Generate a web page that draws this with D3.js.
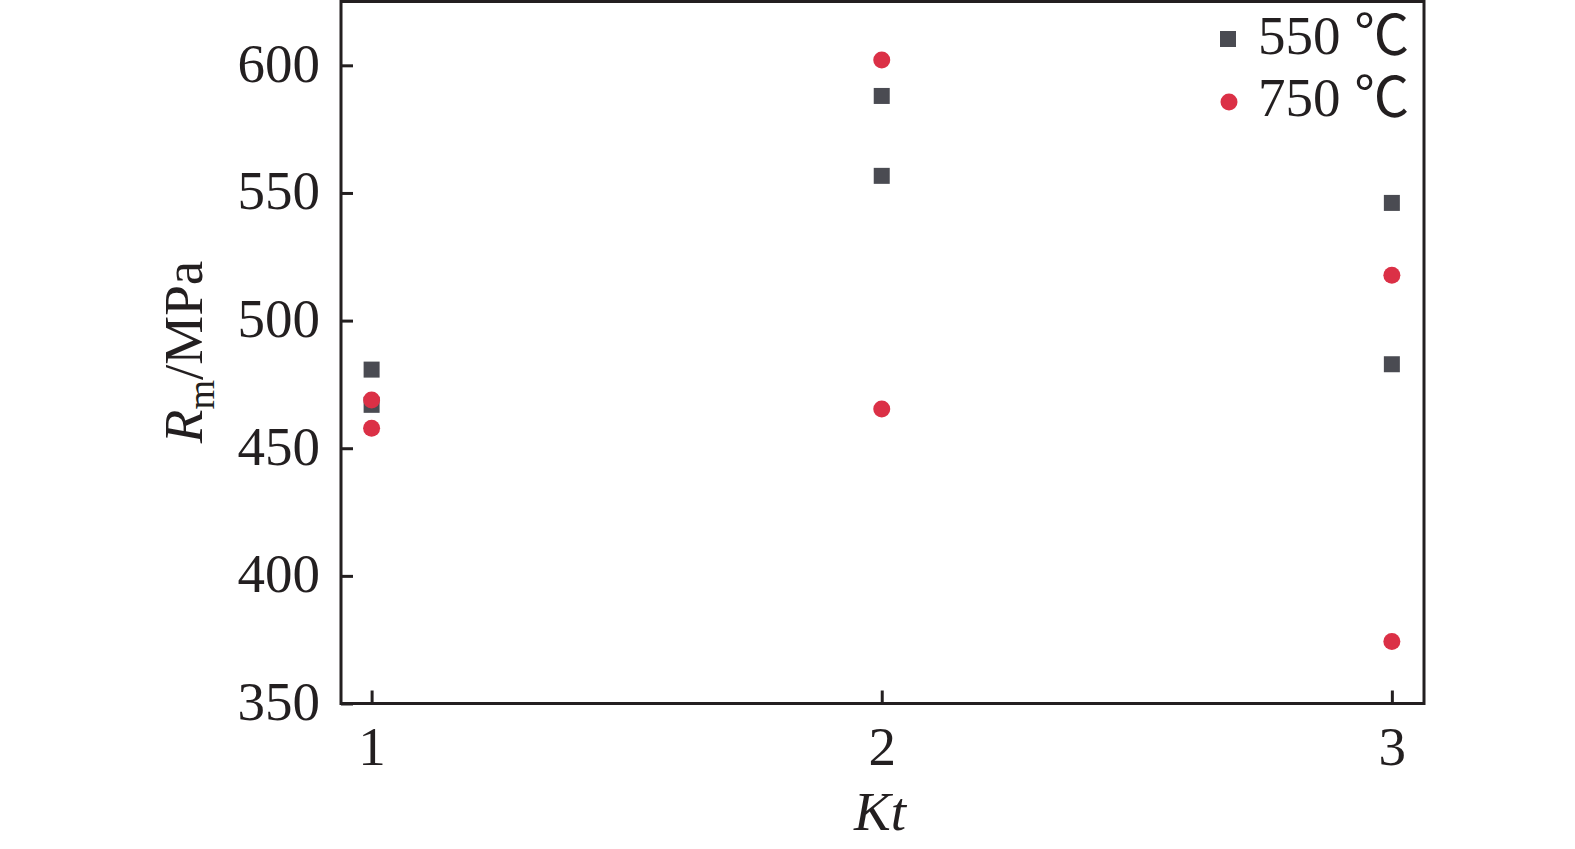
<!DOCTYPE html>
<html>
<head>
<meta charset="utf-8">
<script src="https://cdn.jsdelivr.net/npm/d3@7"></script>
<style>
  html, body { margin: 0; padding: 0; background: #fff; }
  svg { display: block; }
  text { font-family: "Liberation Serif", "Times New Roman", serif; fill: #231f20; }
</style>
</head>
<body>
<svg id="chart" width="1575" height="849"></svg>
<script>
// ---- data ----
const ktValues = [1, 1, 2, 2, 3, 3];
const rm550 = [480.8, 467.0, 588.0, 556.7, 546.1, 482.9];
const rm750 = [468.9, 457.8, 602.1, 465.4, 517.8, 374.3];
const seriesNames = ["550 ℃", "750 ℃"];
const seriesColors = ["#4a4b52", "#db3046"];
const xTicks = [1, 2, 3];
const yTicks = [350, 400, 450, 500, 550, 600];

(function () {
// ---- layout ----
const pLeft = 341, pRight = 1424, pTop = 1.5, pBottom = 703.5;
const ink = "#231f20";
const serif = '"Liberation Serif", "Times New Roman", "Tinos", serif';

const svg = d3.select("#chart");
const x = d3.scaleLinear().domain([0.94, 3.063]).range([pLeft, pRight]);
const y = d3.scaleLinear().domain([350, 625]).range([pBottom, pTop]);

// axes (inward ticks)
const yAxis = d3.axisLeft(y).tickValues(yTicks).tickSize(-12).tickPadding(21).tickFormat(d3.format("d"));
const xAxis = d3.axisBottom(x).tickValues(xTicks).tickSize(-13).tickPadding(22).tickFormat(d3.format("d"));

const gy = svg.append("g").attr("transform", `translate(${pLeft},0)`).call(yAxis);
const gx = svg.append("g").attr("transform", `translate(0,${pBottom})`).call(xAxis);
[gy, gx].forEach(g => {
  g.attr("font-family", null).attr("font-size", null);
  g.select(".domain").remove();
  g.selectAll(".tick line").attr("stroke", ink).attr("stroke-width", 3);
  g.selectAll(".tick text").attr("fill", ink).style("font-size", "55px")
    .style("font-family", serif);
});
gy.selectAll(".tick text").attr("dy", "0.29em");
gx.selectAll(".tick text").attr("dy", "0.71em");

// frame
svg.append("rect")
  .attr("x", pLeft).attr("y", pTop)
  .attr("width", pRight - pLeft).attr("height", pBottom - pTop)
  .attr("fill", "none").attr("stroke", ink).attr("stroke-width", 3);

// data: squares (550) then circles (750)
const sq = 16;
svg.append("g").selectAll("rect")
  .data(rm550.map((v, i) => ({ k: ktValues[i], v })))
  .join("rect")
  .attr("x", d => x(d.k) - sq / 2).attr("y", d => y(d.v) - sq / 2)
  .attr("width", sq).attr("height", sq)
  .attr("fill", seriesColors[0]);

svg.append("g").selectAll("circle")
  .data(rm750.map((v, i) => ({ k: ktValues[i], v })))
  .join("circle")
  .attr("cx", d => x(d.k)).attr("cy", d => y(d.v)).attr("r", 8.5)
  .attr("fill", seriesColors[1]);

// legend
const lg = svg.append("g");
lg.append("rect").attr("x", 1228 - sq / 2).attr("y", 39 - sq / 2).attr("width", sq).attr("height", sq).attr("fill", seriesColors[0]);
lg.append("circle").attr("cx", 1229).attr("cy", 102).attr("r", 8.5).attr("fill", seriesColors[1]);
lg.selectAll("text").data(seriesNames).join("text")
  .attr("x", 1258).attr("y", (d, i) => 54 + i * 62)
  .style("font-size", "55px")
  .style("font-family", '"Liberation Serif", "Times New Roman", "Noto Sans CJK SC", serif')
  .text(d => d);

// axis titles
svg.append("text")
  .attr("x", 880).attr("y", 830)
  .attr("text-anchor", "middle")
  .style("font-family", serif)
  .style("font-size", "55px").style("font-style", "italic")
  .text("Kt");

const yt = svg.append("text")
  .attr("transform", "translate(202,352) rotate(-90)")
  .attr("text-anchor", "middle")
  .style("font-family", serif)
  .style("font-size", "55px");
yt.append("tspan").style("font-style", "italic").text("R");
yt.append("tspan").attr("dy", 12).style("font-size", "38px").text("m");
yt.append("tspan").attr("dy", -12).text("/MPa");
})();
</script>
</body>
</html>
